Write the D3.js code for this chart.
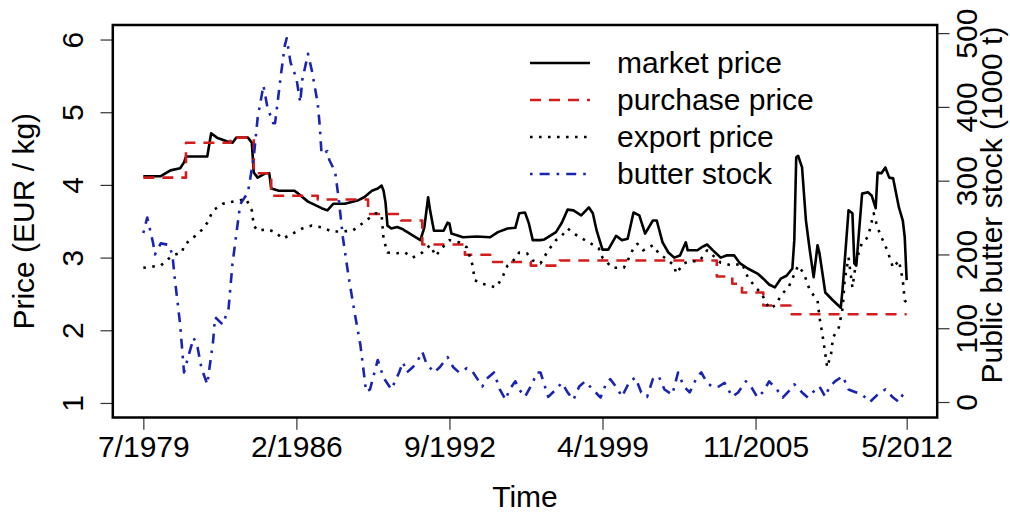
<!DOCTYPE html>
<html lang="en">
<head>
<meta charset="UTF-8">
<title>Butter prices and public butter stock</title>
<script src="https://d3js.org/d3.v7.min.js"></script>
<style>
  html, body { margin: 0; padding: 0; background: #fff; }
  svg { display: block; font-family: "Liberation Sans", Arial, sans-serif; }
  .tick line { stroke: #333; stroke-width: 1.2; }
  .tick text { font-size: 30px; fill: #000; }
</style>
</head>
<body>
<svg id="chart" width="1010" height="515"></svg>
<script>
// time axis is a month index, 0 = July 1979, 394 = May 2012
const tickMonths = [0, 79, 158, 237, 316, 394];
const tickLabels = ["7/1979", "2/1986", "9/1992", "4/1999", "11/2005", "5/2012"];
const priceTicks = [1, 2, 3, 4, 5, 6];
const stockTicks = [0, 100, 200, 300, 400, 500];

// [month, EUR/kg]
const market = [[0,4.12],[9,4.12],[14,4.20],[19,4.23],[21,4.31],[22,4.39],[33,4.39],[35,4.71],[38,4.65],[43,4.60],
  [46,4.58],[48,4.65],[54,4.65],[56,4.58],[57,4.17],[59,4.10],[63,4.16],[65,4.16],[66,3.95],[70,3.92],[78,3.92],
  [80,3.88],[85,3.77],[92,3.68],[95,3.65],[98,3.74],[104,3.74],[111,3.79],[114,3.83],[118,3.92],[121,3.95],
  [123,3.99],[124,3.92],[125,3.76],[126,3.44],[128,3.40],[131,3.42],[134,3.39],[135,3.37],[143,3.24],[145,3.41],
  [147,3.83],[148,3.65],[150,3.37],[155,3.37],[157,3.48],[158,3.47],[159,3.33],[165,3.28],[172,3.29],[179,3.28],
  [183,3.35],[188,3.40],[192,3.41],[194,3.61],[197,3.62],[199,3.47],[201,3.24],[205,3.24],[207,3.25],[213,3.35],
  [216,3.48],[219,3.66],[222,3.65],[226,3.58],[230,3.69],[232,3.61],[234,3.37],[237,3.11],[240,3.11],[244,3.30],
  [247,3.24],[250,3.26],[253,3.62],[256,3.58],[259,3.33],[263,3.51],[265,3.51],[268,3.21],[271,3.07],[274,3.00],
  [277,3.03],[280,3.21],[281,3.10],[286,3.10],[288,3.14],[291,3.18],[294,3.10],[298,3.00],[301,3.03],[305,3.03],
  [308,2.92],[312,2.85],[317,2.78],[320,2.71],[323,2.63],[326,2.59],[329,2.71],[332,2.75],[335,2.85],[336,3.24],
  [337,4.38],[338,4.40],[340,4.24],[342,3.51],[344,3.10],[346,2.73],[348,3.17],[349,3.06],[352,2.52],[356,2.41],
  [360,2.31],[361,2.59],[364,3.65],[366,3.61],[367,2.92],[368,2.89],[371,3.88],[374,3.90],[376,3.85],[378,3.68],
  [379,4.17],[381,4.16],[383,4.24],[385,4.10],[387,4.09],[390,3.69],[392,3.51],[393,3.28],[394,2.69]];

// intervention purchase price, value from that month on
const purchase = [[0,4.10],[22,4.58],[45,4.65],[57,4.16],[66,3.85],[90,3.80],[116,3.60],[133,3.51],[144,3.18],
  [166,3.04],[179,2.94],[200,2.89],[215,2.96],[296,2.74],[304,2.64],[309,2.52],[320,2.34],[334,2.22],[394,2.22]];

const exportPrice = [[0,2.86],[9,2.89],[15,3.03],[20,3.07],[21,3.17],[26,3.28],[31,3.40],[33,3.48],[36,3.65],
  [41,3.74],[50,3.79],[53,3.81],[56,3.65],[57,3.44],[59,3.37],[64,3.39],[68,3.35],[72,3.26],[77,3.33],[82,3.40],
  [87,3.44],[93,3.41],[97,3.36],[103,3.36],[108,3.37],[113,3.47],[120,3.61],[123,3.58],[124,3.26],[126,3.07],
  [131,3.06],[135,3.07],[139,3.00],[144,3.07],[148,3.17],[151,3.02],[153,3.10],[158,3.24],[163,3.21],[167,3.14],
  [170,2.89],[171,2.69],[175,2.64],[178,2.62],[182,2.59],[185,2.71],[188,2.89],[191,2.96],[194,3.07],[198,3.06],
  [201,2.96],[205,2.92],[209,3.10],[213,3.24],[216,3.30],[219,3.40],[224,3.30],[230,3.21],[235,3.13],[237,3.00],
  [242,2.86],[248,2.86],[250,2.96],[253,3.13],[255,3.19],[258,3.10],[263,3.17],[266,3.06],[271,2.96],[274,2.89],
  [275,2.78],[279,2.92],[282,2.95],[287,2.95],[291,3.10],[294,3.03],[298,2.93],[304,2.89],[309,2.92],[312,2.73],
  [316,2.59],[319,2.51],[323,2.30],[326,2.34],[330,2.51],[333,2.59],[335,2.71],[338,2.89],[341,2.78],[344,2.55],
  [348,2.41],[349,2.18],[351,1.86],[353,1.49],[355,1.68],[356,1.90],[359,2.04],[361,2.31],[362,2.69],[364,3.00],
  [366,2.59],[368,2.96],[371,3.21],[374,3.28],[377,3.61],[379,3.41],[381,3.28],[384,3.10],[387,2.86],[390,2.96],
  [392,2.69],[393,2.41],[394,2.38]];

// [month, 1000 t]
const butterStock = [[0,229],[2,250],[5,216],[6,200],[9,215],[13,213],[15,200],[16,173],[19,105],[21,40],[23,60],
  [26,87],[28,74],[30,46],[33,24],[36,82],[37,115],[41,105],[44,127],[46,187],[50,268],[54,284],[57,332],[59,385],
  [62,429],[64,400],[67,378],[68,378],[71,443],[73,483],[74,493],[76,460],[79,439],[81,406],[82,436],[85,472],
  [87,449],[90,405],[91,376],[92,336],[95,340],[96,328],[99,312],[101,272],[103,223],[106,169],[109,122],[112,78],
  [115,14],[117,17],[121,57],[124,33],[128,17],[132,40],[134,54],[136,40],[139,47],[141,53],[144,68],[146,53],
  [150,40],[153,47],[157,61],[160,47],[163,40],[167,46],[170,41],[175,21],[177,31],[181,40],[184,17],[187,3],
  [189,17],[192,28],[194,17],[197,7],[201,26],[203,40],[205,40],[209,7],[213,17],[216,26],[219,13],[222,3],
  [225,21],[228,28],[232,17],[236,6],[239,26],[241,31],[245,17],[247,7],[251,28],[254,33],[257,13],[260,7],
  [263,31],[266,35],[269,17],[273,10],[276,40],[279,21],[282,13],[286,35],[288,40],[291,26],[294,20],[297,21],
  [300,26],[304,7],[307,13],[311,28],[313,24],[317,6],[320,14],[323,28],[327,17],[330,6],[334,17],[336,24],
  [340,13],[343,6],[347,17],[349,21],[352,7],[354,20],[357,28],[361,35],[364,17],[367,14],[371,10],[375,0],
  [379,10],[383,17],[387,6],[390,0],[392,10],[394,13]];

const legendLabels = ["market price", "purchase price", "export price", "butter stock"];

// plot region and margin line height (R style layout)
const box = {left: 112.8, right: 937.2, top: 25, bottom: 417.5};
const lineH = 24.6;
const tickLen = lineH / 2;

const svg = d3.select("#chart");
svg.append("rect").attr("width", 1010).attr("height", 515).attr("fill", "#fff");

// scales, extended by 4% like base R
const x = d3.scaleLinear().domain([-0.04 * 394, 394 * 1.04]).range([box.left, box.right]);
const yPrice = d3.scaleLinear().domain([0.8, 6.2]).range([box.bottom, box.top]);
const yStock = d3.scaleLinear().domain([-21, 511]).range([box.bottom, box.top]);

// series styles
const styles = [
  {data: market, scale: yPrice, color: "#000", dash: null, curve: d3.curveLinear},
  {data: purchase, scale: yPrice, color: "#d41c1c", dash: "11,8", curve: d3.curveStepAfter},
  {data: exportPrice, scale: yPrice, color: "#000", dash: "2.6,6.4", curve: d3.curveLinear},
  {data: butterStock, scale: yStock, color: "#1a24b2", dash: "2.6,7,10,7", curve: d3.curveLinear}
];

svg.append("clipPath").attr("id", "clip")
  .append("rect")
  .attr("x", box.left).attr("y", box.top)
  .attr("width", box.right - box.left).attr("height", box.bottom - box.top);

const plot = svg.append("g").attr("clip-path", "url(#clip)");
styles.forEach(s => {
  const line = d3.line()
    .x(d => x(d[0]))
    .y(d => s.scale(d[1]))
    .curve(s.curve);
  plot.append("path")
    .datum(s.data)
    .attr("d", line)
    .attr("fill", "none")
    .attr("stroke", s.color)
    .attr("stroke-width", 2.6)
    .attr("stroke-linejoin", "round")
    .attr("stroke-dasharray", s.dash);
});

// bottom axis
const xAxis = svg.append("g")
  .attr("transform", `translate(0,${box.bottom})`)
  .call(d3.axisBottom(x).tickValues(tickMonths)
    .tickFormat((d, i) => tickLabels[i]).tickSize(tickLen));
xAxis.select(".domain").remove();
xAxis.selectAll("text").attr("y", 1.6 * lineH).attr("dy", null);

// left axis, labels parallel to the axis
const yAxisL = svg.append("g")
  .attr("transform", `translate(${box.left},0)`)
  .call(d3.axisLeft(yPrice).tickValues(priceTicks).tickFormat(d3.format("d")).tickSize(tickLen));
yAxisL.select(".domain").remove();
yAxisL.selectAll("text")
  .attr("x", null).attr("dy", null)
  .attr("text-anchor", "middle")
  .attr("transform", `translate(${-1.2 * lineH},0) rotate(-90)`);

// right axis
const yAxisR = svg.append("g")
  .attr("transform", `translate(${box.right},0)`)
  .call(d3.axisRight(yStock).tickValues(stockTicks).tickFormat(d3.format("d")).tickSize(tickLen));
yAxisR.select(".domain").remove();
yAxisR.selectAll("text")
  .attr("x", null).attr("dy", null)
  .attr("text-anchor", "middle")
  .attr("transform", `translate(${1.6 * lineH},0) rotate(-90)`);

// frame
svg.append("rect")
  .attr("x", box.left).attr("y", box.top)
  .attr("width", box.right - box.left).attr("height", box.bottom - box.top)
  .attr("fill", "none").attr("stroke", "#000").attr("stroke-width", 2.5);

// axis titles
svg.append("text")
  .attr("x", (box.left + box.right) / 2).attr("y", 507)
  .attr("text-anchor", "middle").attr("font-size", 30)
  .text("Time");

svg.append("text")
  .attr("transform", `translate(${box.left - 3.2 * lineH},${(box.top + box.bottom) / 2}) rotate(-90)`)
  .attr("text-anchor", "middle").attr("font-size", 30)
  .text("Price (EUR / kg)");

svg.append("text")
  .attr("transform", `translate(1002,205) rotate(-90)`)
  .attr("text-anchor", "middle").attr("font-size", 30)
  .text("Public butter stock (1000 t)");

// legend, no frame
const legend = svg.append("g");
legendLabels.forEach((label, i) => {
  const cy = 63 + i * 37;
  legend.append("line")
    .attr("x1", 530).attr("x2", 590).attr("y1", cy).attr("y2", cy)
    .attr("stroke", styles[i].color).attr("stroke-width", 2.6)
    .attr("stroke-dasharray", styles[i].dash);
  legend.append("text")
    .attr("x", 617).attr("y", cy + 10)
    .attr("font-size", 30)
    .text(label);
});
</script>
</body>
</html>
